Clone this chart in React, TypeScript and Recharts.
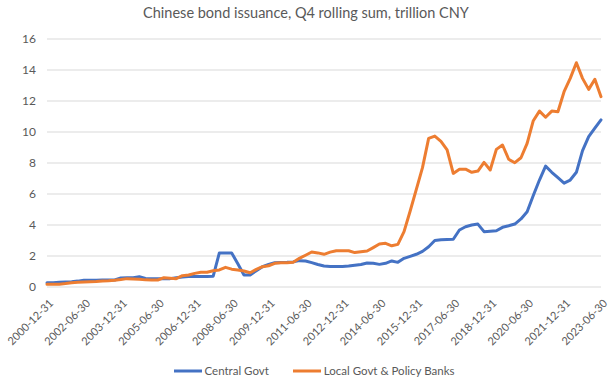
import React from 'react';
import { LineChart, Line, XAxis, YAxis, CartesianGrid } from 'recharts';

const dates: string[] = [
  '2000-12-31',
  '2001-03-31', '2001-06-30', '2001-09-30', '2001-12-31',
  '2002-03-31', '2002-06-30', '2002-09-30', '2002-12-31',
  '2003-03-31', '2003-06-30', '2003-09-30', '2003-12-31',
  '2004-03-31', '2004-06-30', '2004-09-30', '2004-12-31',
  '2005-03-31', '2005-06-30', '2005-09-30', '2005-12-31',
  '2006-03-31', '2006-06-30', '2006-09-30', '2006-12-31',
  '2007-03-31', '2007-06-30', '2007-09-30', '2007-12-31',
  '2008-03-31', '2008-06-30', '2008-09-30', '2008-12-31',
  '2009-03-31', '2009-06-30', '2009-09-30', '2009-12-31',
  '2010-03-31', '2010-06-30', '2010-09-30', '2010-12-31',
  '2011-03-31', '2011-06-30', '2011-09-30', '2011-12-31',
  '2012-03-31', '2012-06-30', '2012-09-30', '2012-12-31',
  '2013-03-31', '2013-06-30', '2013-09-30', '2013-12-31',
  '2014-03-31', '2014-06-30', '2014-09-30', '2014-12-31',
  '2015-03-31', '2015-06-30', '2015-09-30', '2015-12-31',
  '2016-03-31', '2016-06-30', '2016-09-30', '2016-12-31',
  '2017-03-31', '2017-06-30', '2017-09-30', '2017-12-31',
  '2018-03-31', '2018-06-30', '2018-09-30', '2018-12-31',
  '2019-03-31', '2019-06-30', '2019-09-30', '2019-12-31',
  '2020-03-31', '2020-06-30', '2020-09-30', '2020-12-31',
  '2021-03-31', '2021-06-30', '2021-09-30', '2021-12-31',
  '2022-03-31', '2022-06-30', '2022-09-30', '2022-12-31',
  '2023-03-31', '2023-06-30',
];

const centralGovt: number[] = [
  0.28,
  0.28, 0.30, 0.32, 0.34,
  0.38, 0.44, 0.44, 0.44,
  0.45, 0.45, 0.45, 0.58,
  0.60, 0.60, 0.66, 0.55,
  0.54, 0.54, 0.54, 0.54,
  0.60, 0.65, 0.67, 0.68,
  0.68, 0.68, 0.70, 2.20,
  2.20, 2.20, 1.50, 0.78,
  0.78, 1.05, 1.31, 1.45,
  1.57, 1.58, 1.59, 1.62,
  1.70, 1.68, 1.57, 1.45,
  1.35, 1.32, 1.32, 1.33,
  1.35, 1.40, 1.45, 1.55,
  1.53, 1.46, 1.53, 1.68,
  1.59, 1.85, 1.98, 2.11,
  2.30, 2.60, 3.00, 3.05,
  3.07, 3.08, 3.68, 3.89,
  4.00, 4.06, 3.57, 3.60,
  3.63, 3.85, 3.95, 4.06,
  4.39, 4.86, 5.90, 6.90,
  7.80, 7.40, 7.05, 6.70,
  6.90, 7.40, 8.80, 9.70,
  10.25, 10.78,
];

const localGovtPolicyBanks: number[] = [
  0.17,
  0.17, 0.18, 0.22, 0.28,
  0.30, 0.32, 0.34, 0.36,
  0.39, 0.41, 0.44, 0.48,
  0.54, 0.52, 0.50, 0.46,
  0.45, 0.45, 0.60, 0.57,
  0.54, 0.73, 0.77, 0.88,
  0.95, 0.95, 1.05, 1.10,
  1.27, 1.15, 1.10, 1.03,
  0.92, 1.14, 1.31, 1.37,
  1.53, 1.57, 1.57, 1.60,
  1.85, 2.05, 2.26, 2.20,
  2.11, 2.25, 2.34, 2.34,
  2.34, 2.22, 2.27, 2.32,
  2.54, 2.77, 2.82, 2.66,
  2.75, 3.57, 4.90, 6.30,
  7.70, 9.59, 9.74, 9.40,
  8.84, 7.33, 7.60, 7.60,
  7.40, 7.48, 8.04, 7.55,
  8.88, 9.16, 8.24, 8.02,
  8.34, 9.27, 10.73, 11.35,
  10.95, 11.35, 11.31, 12.60,
  13.46, 14.47, 13.46, 12.75,
  13.40, 12.28,
];

const yTicks: number[] = [0, 2, 4, 6, 8, 10, 12, 14, 16];
const seriesNames: string[] = ['Central Govt', 'Local Govt & Policy Banks'];
const seriesColors: string[] = ['#4472C4', '#ED7D31'];
const title = 'Chinese bond issuance, Q4 rolling sum, trillion CNY';

const data = dates.map((d, i) => ({
  date: d,
  central: centralGovt[i],
  local: localGovtPolicyBanks[i],
}));

const FONT = 'Lato, "Open Sans", sans-serif';
const TEXT = '#595959';

const XTick = (props: any) => {
  const { x, y, payload } = props;
  const tx = x + 7;
  const ty = y + 17;
  return (
    <text
      x={tx}
      y={ty}
      transform={`rotate(-45 ${tx} ${ty})`}
      textAnchor="end"
      fontSize={11}
      fill={TEXT}
      fontFamily={FONT}
    >
      {payload.value}
    </text>
  );
};

export default function App() {
  return (
    <div style={{ position: 'absolute', left: 0, top: 0, width: 612, height: 381, background: '#fff', fontFamily: FONT }}>
      <div style={{ position: 'absolute', left: 0, top: 4, width: 612, textAlign: 'center', fontSize: 14.5, color: TEXT, fontFamily: FONT }}>
        {title}
      </div>
      <LineChart width={612} height={381} data={data} margin={{ top: 39, right: 11, left: 0, bottom: 0 }}>
        <CartesianGrid vertical={false} stroke="#d9d9d9" strokeWidth={1} />
        <XAxis
          dataKey="date"
          interval={5}
          axisLine={false}
          tickLine={false}
          tickSize={0}
          tickMargin={0}
          height={94}
          tick={<XTick />}
        />
        <YAxis
          domain={[0, 16]}
          ticks={yTicks}
          axisLine={false}
          tickLine={false}
          tickSize={0}
          tickMargin={11}
          width={47}
          tick={{ fill: TEXT, fontSize: 12, fontFamily: FONT }}
        />
        <Line type="linear" dataKey="central" name={seriesNames[0]} stroke={seriesColors[0]} strokeWidth={3} dot={false} isAnimationActive={false} strokeLinejoin="round" strokeLinecap="round" />
        <Line type="linear" dataKey="local" name={seriesNames[1]} stroke={seriesColors[1]} strokeWidth={3} dot={false} isAnimationActive={false} strokeLinejoin="round" strokeLinecap="round" />
      </LineChart>
      <div style={{ position: 'absolute', left: 8, top: 364, width: 612, display: 'flex', justifyContent: 'center', alignItems: 'center', fontSize: 11.5, color: TEXT, fontFamily: FONT }}>
        {seriesNames.map((n, i) => (
          <div key={n} style={{ display: 'flex', alignItems: 'center', marginLeft: i === 0 ? 0 : 24 }}>
            <svg width={28} height={6} style={{ marginRight: 3 }}>
              <line x1={0} y1={3} x2={28} y2={3} stroke={seriesColors[i]} strokeWidth={3} />
            </svg>
            <span>{n}</span>
          </div>
        ))}
      </div>
    </div>
  );
}
